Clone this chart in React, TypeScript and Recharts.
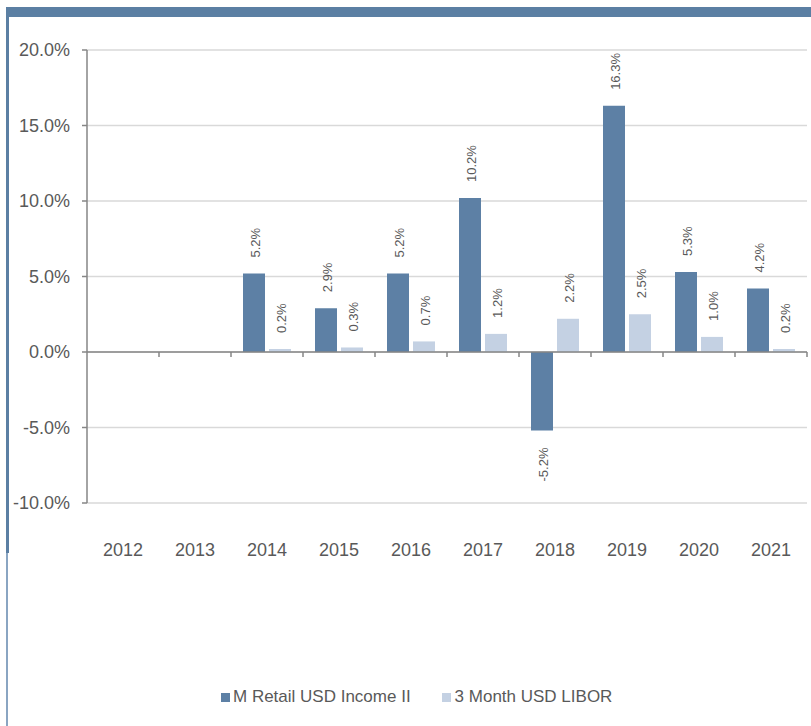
import { Bar, BarChart, CartesianGrid, Legend, ReferenceLine, XAxis, YAxis } from "recharts";

const years = ["2012", "2013", "2014", "2015", "2016", "2017", "2018", "2019", "2020", "2021"];
const fundReturns = [null, null, 5.2, 2.9, 5.2, 10.2, -5.2, 16.3, 5.3, 4.2];
const liborReturns = [null, null, 0.2, 0.3, 0.7, 1.2, 2.2, 2.5, 1.0, 0.2];
const yTicks = [-10, -5, 0, 5, 10, 15, 20];

const FUND_NAME = "M Retail USD Income II";
const LIBOR_NAME = "3 Month USD LIBOR";
const DARK = "#5d80a5";
const LIGHT = "#c4d1e3";
const AXIS = "#868686";
const TEXT = "#595959";
const FONT = '"Liberation Sans", Arial, sans-serif';

const data = years.map((year, i) => ({
  year,
  fund: fundReturns[i],
  libor: liborReturns[i],
}));

const renderLabel = (props: any) => {
  const { x, y, width, height, value } = props;
  if (value === null || value === undefined) return null;
  const cx = Number(x) + Number(width) / 2;
  const top = Math.min(Number(y), Number(y) + Number(height));
  const bottom = Math.max(Number(y), Number(y) + Number(height));
  const neg = Number(value) < 0;
  const py = neg ? bottom + 17 : top - 16;
  return (
    <text
      x={cx}
      y={py}
      dy="0.45em"
      transform={`rotate(-90, ${cx}, ${py})`}
      textAnchor={neg ? "end" : "start"}
      fill={TEXT}
      fontSize={13}
      fontFamily={FONT}
    >
      {Number(value).toFixed(1)}%
    </text>
  );
};

// zero line doubles as the category axis, with ticks on band edges
const ZeroAxis = (props: any) => {
  const { x1, x2, y1 } = props;
  const step = (x2 - x1) / years.length;
  return (
    <g>
      <line x1={x1} x2={x2} y1={y1} y2={y1} stroke={AXIS} strokeWidth={1.5} />
      {years.map((_, k) => (
        <line key={k} x1={x1 + (k + 1) * step} x2={x1 + (k + 1) * step} y1={y1} y2={y1 + 5} stroke={AXIS} strokeWidth={1.5} />
      ))}
    </g>
  );
};

const LegendContent = () => (
  <div style={{ display: "flex", alignItems: "center", height: 30, paddingLeft: 221, fontFamily: FONT, fontSize: 17, color: TEXT }}>
    <span style={{ width: 9, height: 9, background: DARK, marginRight: 3 }} />
    <span>{FUND_NAME}</span>
    <span style={{ width: 9, height: 9, background: LIGHT, marginLeft: 31, marginRight: 4 }} />
    <span>{LIBOR_NAME}</span>
  </div>
);

export default function App() {
  return (
    <div style={{ position: "absolute", left: 0, top: 0, width: 811, height: 726, background: "#fff" }}>
      <div style={{ position: "absolute", left: 6, top: 7, width: 805, height: 10, background: "#5b7fa3" }} />
      <div style={{ position: "absolute", left: 6, top: 17, width: 3, height: 536, background: "#5b7fa3" }} />
      <div style={{ position: "absolute", left: 6, top: 553, width: 2, height: 173, background: "#8aa5c2" }} />
      <div style={{ position: "absolute", left: 0, top: 0 }}>
        <BarChart
          width={811}
          height={726}
          data={data}
          margin={{ top: 50, right: 4, left: 0, bottom: 14 }}
          barSize={22}
          barGap={4}
        >
          <CartesianGrid vertical={false} stroke="#d9d9d9" strokeWidth={1.5} />
          <XAxis
            dataKey="year"
            axisLine={false}
            tickLine={false}
            tickSize={0}
            tickMargin={40}
            height={179}
            interval={0}
            tick={{ fill: TEXT, fontSize: 18, fontFamily: FONT }}
          />
          <YAxis
            width={87}
            domain={[-10, 20]}
            ticks={yTicks}
            interval={0}
            tickFormatter={(v: number) => `${v.toFixed(1)}%`}
            axisLine={{ stroke: AXIS, strokeWidth: 1.5 }}
            tickLine={{ stroke: AXIS, strokeWidth: 1.5 }}
            tickSize={5}
            tickMargin={12}
            tick={{ fill: TEXT, fontSize: 18, fontFamily: FONT }}
          />
          <Bar dataKey="fund" name={FUND_NAME} fill={DARK} isAnimationActive={false} label={renderLabel} />
          <Bar dataKey="libor" name={LIBOR_NAME} fill={LIGHT} isAnimationActive={false} label={renderLabel} />
          <ReferenceLine y={0} shape={ZeroAxis} />
          <Legend
            verticalAlign="bottom"
            height={30}
            content={LegendContent}
            wrapperStyle={{ left: 0, width: 811, bottom: 14 }}
          />
        </BarChart>
      </div>
    </div>
  );
}
